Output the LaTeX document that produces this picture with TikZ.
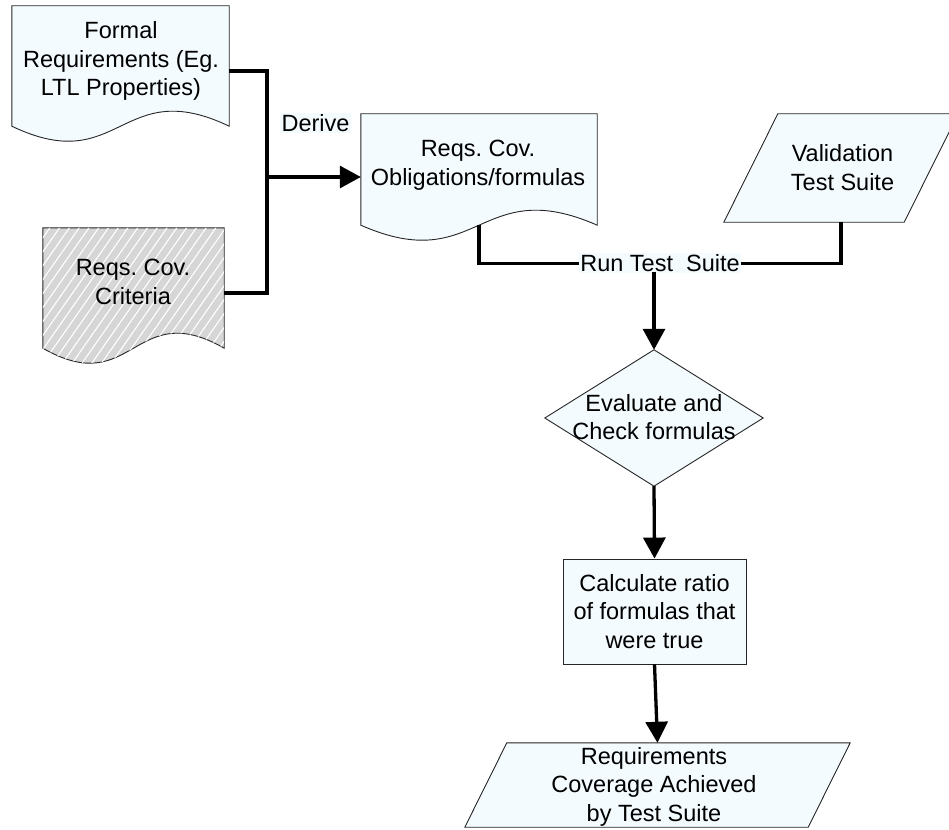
\documentclass[tikz,border=0pt]{standalone}
\usepackage{fontspec}
\setmainfont{Liberation Sans}
\usetikzlibrary{arrows.meta,calc,patterns.meta}
\frenchspacing

\definecolor{paper}{HTML}{F3FBFE}
\definecolor{shade}{HTML}{D6D6D6}
\definecolor{edge}{HTML}{262626}

\tikzset{
  every node/.style={font=\fontsize{23.5}{28.5}\selectfont},
  body/.style 2 args={draw=none, inner sep=0pt, minimum width=#1, minimum height=#2},
  outline/.style={draw=edge, line width=0.9pt, fill=paper, line join=miter},
  hatched/.style={outline, fill=shade,
    postaction={pattern={Lines[angle=55,distance=8pt,line width=1.1pt]}, pattern color=white}},
  caption/.style={align=center, inner sep=0pt},
  tag/.style={fill=paper, inner sep=1.5pt},
  conn/.style={line width=3.3pt, line join=miter},
  flow/.style={conn, -{Triangle[length=21pt,width=22pt]}},
}

% document symbol: straight top and sides, wavy bottom edge
\newcommand\drawdoc[2]{%
  \draw[#2] (#1.south west) -- (#1.north west) -- (#1.north east) -- (#1.south east)
    .. controls ($(#1.south)+(0,-52)$) and ($(#1.south)+(0,52)$) .. (#1.south west) -- cycle;}
% data symbol: parallelogram leaning right, #2 = half of the horizontal offset
\newcommand\drawdata[2]{%
  \draw[outline] ($(#1.south west)+(-#2,0)$) -- ($(#1.south east)+(-#2,0)$)
    -- ($(#1.north east)+(#2,0)$) -- ($(#1.north west)+(#2,0)$) -- cycle;}

\begin{document}
\begin{tikzpicture}[x=1pt,y=-1pt]
\useasboundingbox (0,0) rectangle (949,829);

% inputs
\node[body={217pt}{120pt}] (formal) at (120.5,66) {};
\drawdoc{formal}{outline}
\node[caption] (formal-t) at (121,61.3) {Formal\\Requirements (Eg.\\LTL Properties)};

\node[body={181pt}{120pt}] (crit) at (133.5,288) {};
\drawdoc{crit}{hatched}
\node[caption] (crit-t) at (133,282) {Reqs. Cov.\\Criteria};

\node[body={236pt}{111pt}] (oblig) at (479,169.5) {};
\drawdoc{oblig}{outline}
\node[caption] (oblig-t) at (478,165.2) {Reqs. Cov.\\Obligations/formulas};

\node[body={180pt}{108pt}] (val) at (841,168) {};
\drawdata{val}{27}
\node[caption] (val-t) at (842.5,167.5) {Validation\\Test Suite};

% evaluation chain
\node[body={218pt}{136pt}] (check) at (654,418) {};
\draw[outline] (check.north) -- (check.east) -- (check.south) -- (check.west) -- cycle;
\node[caption] (check-t) at (654,417) {Evaluate and\\Check formulas};

\node[outline, caption, minimum width=183pt, minimum height=105pt] (ratio) at (654.5,611.5)
  {Calculate ratio\\of formulas that\\were true};

\node[body={343pt}{84pt}] (result) at (657.5,785) {};
\drawdata{result}{21}
\node[caption] (result-t) at (654,786.5) {Requirements\\Coverage Achieved\\by Test Suite};

% connector labels
\node[tag, anchor=base] (derive) at (315.5,131.7) {Derive};
\node[tag, anchor=base] (run) at (660,271.7) {Run Test\ \ Suite};

% connectors
\coordinate (j) at (267,177);
\draw[conn] ([yshift=-5pt]formal.east) -| (j) |- ([yshift=-5pt]crit.east);
\draw[flow] (j) -- (j -| oblig.west);
\draw[conn] (oblig.south) |- (run.west);
\draw[conn] (run.east) -| (val.south);
\draw[flow] (check.north |- run.base) -- (check.north);
\draw[flow] (check.south) -- (ratio.north);
\draw[flow] (ratio.south) -- (result.north);
\end{tikzpicture}
\end{document}
